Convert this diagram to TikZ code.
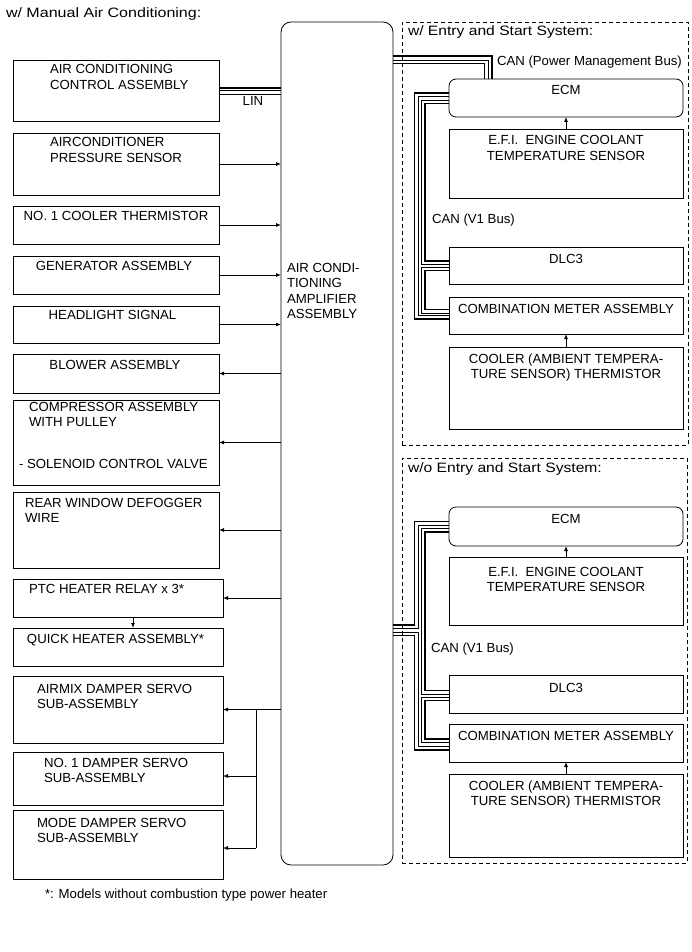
\documentclass[tikz,border=0pt]{standalone}
\usepackage{fontspec}
\setmainfont{Liberation Sans}
\usetikzlibrary{arrows.meta,calc}
\newcommand\tabL[1]{\begin{tabular}[t]{@{}l@{}}#1\end{tabular}}
\newcommand\tabC[1]{\begin{tabular}[t]{@{}c@{}}#1\end{tabular}}
\begin{document}
\begin{tikzpicture}[x=1pt,y=-1pt,
  every node/.style={inner sep=0pt, outer sep=0pt, font=\fontsize{13.2}{15.5}\selectfont},
  box/.style={draw, line width=0.8pt, anchor=north west},
  rbox/.style={box, rounded corners=7pt},
  dbox/.style={draw, line width=0.8pt, dash pattern=on 4pt off 3pt, anchor=north west},
  arr/.style={line width=0.8pt, -{Latex[length=5pt,width=4pt]}},
  wire/.style={line width=0.8pt},
  bk/.style={line width=1.4pt},
  bn/.style={line width=0.6pt},
  ttl/.style={anchor=base west, font=\fontsize{13.6}{16}\selectfont},
  tl/.style={anchor=base west},
  tc/.style={anchor=base}
]
\useasboundingbox (0,0) rectangle (691,952);

% titles
\node[ttl] (title) at (6,17.5) {\scalebox{1.18}[1]{w/ Manual Air Conditioning:}};

% amplifier
\node[box, rounded corners=10pt, minimum width=112pt, minimum height=843pt] (amp) at (281,22) {};
\node[tl] (ampt) at (287,272) {\tabL{AIR CONDI-\\TIONING\\AMPLIFIER\\ASSEMBLY}};

% left boxes
\node[box, minimum width=206pt, minimum height=61pt] (b1) at (13,60) {};
\node[box, minimum width=206pt, minimum height=62pt] (b2) at (13,133) {};
\node[box, minimum width=206pt, minimum height=38pt] (b3) at (13,206) {};
\node[box, minimum width=206pt, minimum height=38pt] (b4) at (13,256) {};
\node[box, minimum width=206pt, minimum height=37pt] (b5) at (13,306) {};
\node[box, minimum width=206pt, minimum height=39pt] (b6) at (13,354) {};
\node[box, minimum width=206pt, minimum height=85pt] (b7) at (13,400) {};
\node[box, minimum width=206pt, minimum height=76pt] (b8) at (13,492) {};
\node[box, minimum width=210pt, minimum height=38pt] (b9) at (13,579) {};
\node[box, minimum width=210pt, minimum height=38pt] (b10) at (13,628) {};
\node[box, minimum width=210pt, minimum height=67pt] (b11) at (13,676) {};
\node[box, minimum width=210pt, minimum height=53pt] (b12) at (13,752) {};
\node[box, minimum width=210pt, minimum height=69pt] (b13) at (13,810) {};

\node[tl] (t1) at (50,74) {\tabL{AIR CONDITIONING\\CONTROL ASSEMBLY}};
\node[tl] (t2) at (50,147) {\tabL{AIRCONDITIONER\\PRESSURE SENSOR}};
\node[tc] (t3) at (116,220) {NO. 1 COOLER THERMISTOR};
\node[tc] (t4) at (114,270) {GENERATOR ASSEMBLY};
\node[tc] (t5) at (112.5,319) {HEADLIGHT SIGNAL};
\node[tc] (t6) at (115,369) {BLOWER ASSEMBLY};
\node[tl] (t7) at (29,411) {\tabL{COMPRESSOR ASSEMBLY\\WITH PULLEY}};
\node[tl] (t7b) at (19,468) {- SOLENOID CONTROL VALVE};
\node[tl] (t8) at (25,507) {\tabL{REAR WINDOW DEFOGGER\\WIRE}};
\node[tl] (t9) at (29,593) {PTC HEATER RELAY x 3*};
\node[tl] (t10) at (27,643) {QUICK HEATER ASSEMBLY*};
\node[tl] (t11) at (37,693) {\tabL{AIRMIX DAMPER SERVO\\SUB-ASSEMBLY}};
\node[tl] (t12) at (44,767) {\tabL{NO. 1 DAMPER SERVO\\SUB-ASSEMBLY}};
\node[tl] (t13) at (37,827) {\tabL{MODE DAMPER SERVO\\SUB-ASSEMBLY}};

% LIN
\draw[line width=1.3pt] (b1.east |- 0,88) -- (amp.west |- 0,88);
\draw[line width=0.8pt] (b1.east |- 0,90.8) -- (amp.west |- 0,90.8);
\draw[line width=0.6pt] (b1.east |- 0,94) -- (amp.west |- 0,94);
\node[tc] (lin) at (253,106) {LIN};

% input arrows
\draw[arr] (b2.east) -- (b2.east -| amp.west);
\draw[arr] (b3.east) -- (b3.east -| amp.west);
\draw[arr] (b4.east) -- (b4.east -| amp.west);
\draw[arr] (b5.east) -- (b5.east -| amp.west);
% output arrows
\draw[arr] (b6.east -| amp.west) -- (b6.east);
\draw[arr] (b7.east -| amp.west) -- (b7.east);
\draw[arr] (b8.east -| amp.west) -- (b8.east);
\draw[arr] (b9.east -| amp.west) -- (b9.east);
\draw[arr] ([xshift=15pt]b9.south) -- ([xshift=15pt]b10.north);
\draw[arr] (b11.east -| amp.west) -- (b11.east);
\coordinate (br) at (256,0 |- b11.east);
\draw[wire] (br) -- (256,848);
\draw[arr] (256,776) -- (b12.east |- 0,776);
\draw[arr] (256,848) -- (b13.east |- 0,848);

% ===== Section A =====
\node[dbox, minimum width=286pt, minimum height=423pt] (secA) at (402,22) {};
\node[ttl] (secAt) at (408,35.5) {\scalebox{1.15}[1]{w/ Entry and Start System:}};
\node[rbox, minimum width=234pt, minimum height=38pt] (ecmA) at (449,79) {};
\node[box, minimum width=234pt, minimum height=69pt] (efiA) at (449,129) {};
\node[box, minimum width=234pt, minimum height=37pt] (dlcA) at (449,247) {};
\node[box, minimum width=234pt, minimum height=37pt] (cmbA) at (449,297) {};
\node[box, minimum width=234pt, minimum height=82pt] (coolA) at (449,347) {};
\node[tc] at (566,95) {ECM};
\node[tc] at (566,145) {\tabC{E.F.I.\ \ ENGINE COOLANT\\TEMPERATURE SENSOR}};
\node[tc] at (566,263) {DLC3};
\node[tc] at (566,313) {COMBINATION METER ASSEMBLY};
\node[tc] at (566,363) {\tabC{COOLER (AMBIENT TEMPERA-\\TURE SENSOR) THERMISTOR}};
\draw[arr] (efiA.north) -- (ecmA.south);
\draw[arr] (coolA.north) -- (cmbA.south);
\node[tl] (pmb) at (497,66) {CAN (Power Management Bus)};
\node[tl] (v1a) at (432,223) {CAN (V1 Bus)};

% power management bus
\draw[bk] (amp.east |- 0,56) -| (ecmA.north -| 492,0);
\draw[bn] (amp.east |- 0,60) -| (ecmA.north -| 488,0);
\draw[line width=1.1pt] (amp.east |- 0,63.5) -| (ecmA.north -| 484.5,0);
% V1 bus A
\draw[bk] (ecmA.west |- 0,93) -| (414.5,319) -- (cmbA.west |- 0,319);
\draw[bn] (ecmA.west |- 0,96.5) -| (418,315.5) -- (cmbA.west |- 0,315.5);
\draw[bn] (ecmA.west |- 0,100) -| (421.5,264.5) -- (dlcA.west |- 0,264.5);
\draw[bk] (ecmA.west |- 0,103.5) -| (425,261) -- (dlcA.west |- 0,261);
\draw[bn] (dlcA.west |- 0,267) -| (421.5,313) -- (cmbA.west |- 0,313);
\draw[bk] (dlcA.west |- 0,270.5) -| (425,309.5) -- (cmbA.west |- 0,309.5);

% ===== Section B =====
\node[dbox, minimum width=285pt, minimum height=405pt] (secB) at (402,458) {};
\node[ttl] (secBt) at (408,472) {\scalebox{1.15}[1]{w/o Entry and Start System:}};
\node[rbox, minimum width=234pt, minimum height=39pt] (ecmB) at (449,507) {};
\node[box, minimum width=234pt, minimum height=68pt] (efiB) at (449,557) {};
\node[box, minimum width=234pt, minimum height=38pt] (dlcB) at (449,675) {};
\node[box, minimum width=234pt, minimum height=38pt] (cmbB) at (449,724) {};
\node[box, minimum width=234pt, minimum height=83pt] (coolB) at (449,774) {};
\node[tc] at (566,523) {ECM};
\node[tc] at (566,576) {\tabC{E.F.I.\ \ ENGINE COOLANT\\TEMPERATURE SENSOR}};
\node[tc] at (566,692) {DLC3};
\node[tc] at (566,740) {COMBINATION METER ASSEMBLY};
\node[tc] at (566,790) {\tabC{COOLER (AMBIENT TEMPERA-\\TURE SENSOR) THERMISTOR}};
\draw[arr] (efiB.north) -- (ecmB.south);
\draw[arr] (coolB.north) -- (cmbB.south);
\node[tl] (v1b) at (431,652) {CAN (V1 Bus)};

% V1 bus B
\draw[bk] (amp.east |- 0,625) -| (414.5,521.5) -- (ecmB.west |- 0,521.5);
\draw[bn] (amp.east |- 0,628.5) -| (418,525) -- (ecmB.west |- 0,525);
\draw[bn] (amp.east |- 0,632) -| (418,746) -- (cmbB.west |- 0,746);
\draw[bk] (amp.east |- 0,635.5) -| (414.5,750) -- (cmbB.west |- 0,750);
\draw[bn] (ecmB.west |- 0,528.5) -| (421.5,694) -- (dlcB.west |- 0,694);
\draw[bk] (ecmB.west |- 0,532) -| (425,690.5) -- (dlcB.west |- 0,690.5);
\draw[bn] (dlcB.west |- 0,697) -| (421.5,742.5) -- (cmbB.west |- 0,742.5);
\draw[bk] (dlcB.west |- 0,700.5) -| (425,739) -- (cmbB.west |- 0,739);

% footnote
\node[tl] (fn) at (45,898) {*: Models without combustion type power heater};
\end{tikzpicture}
\end{document}
